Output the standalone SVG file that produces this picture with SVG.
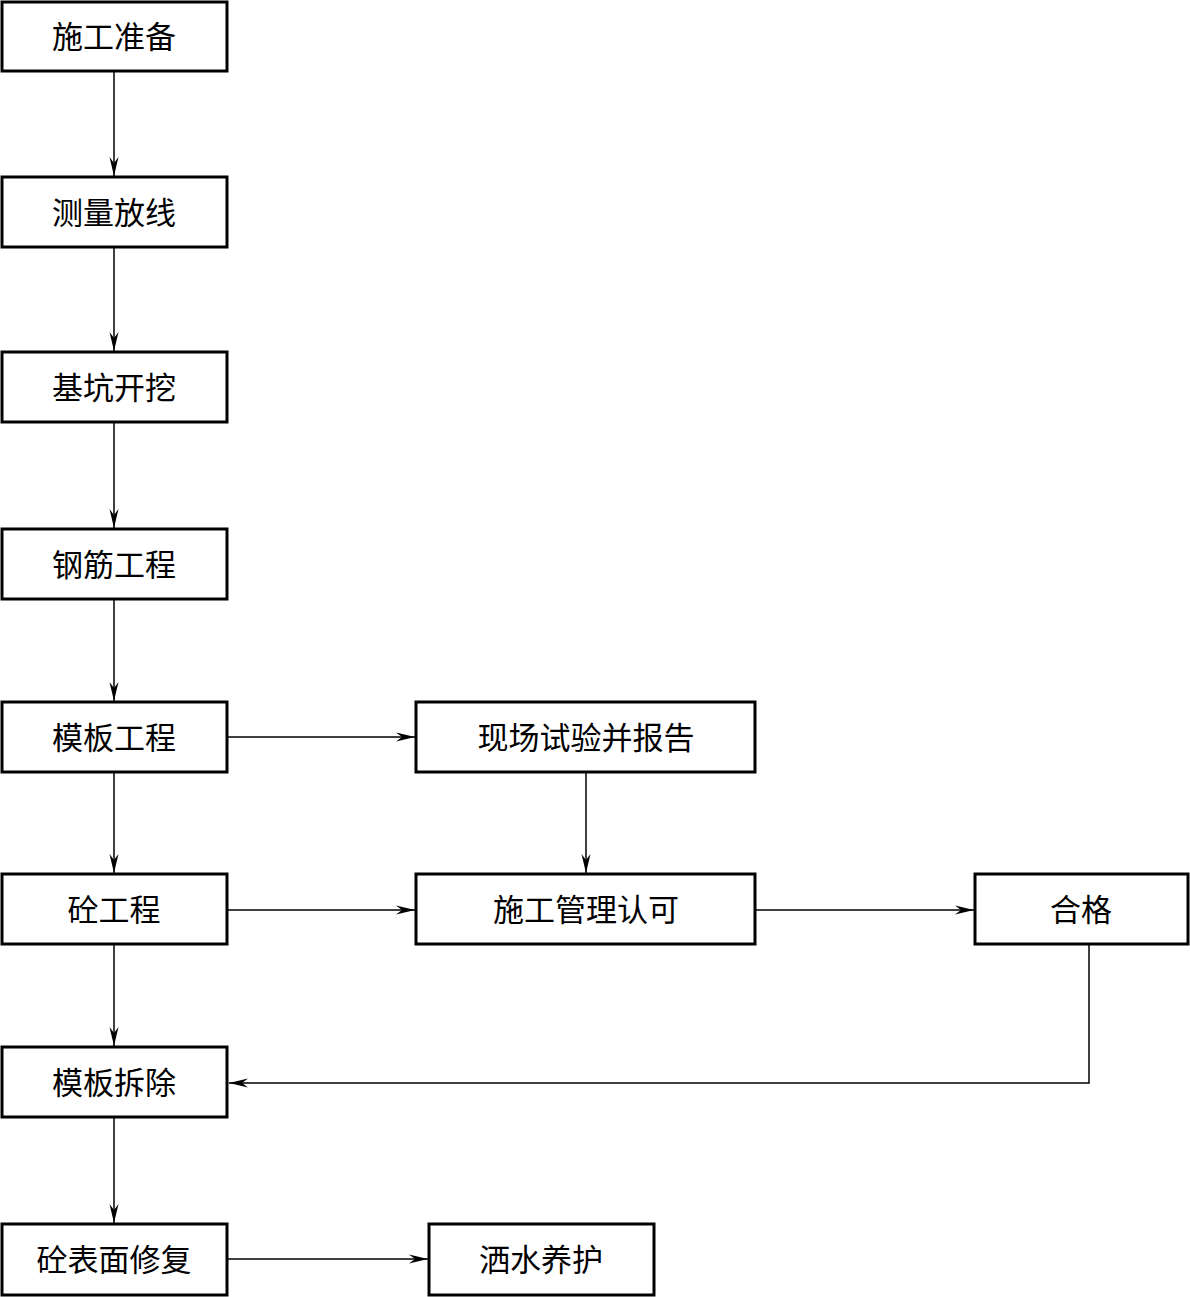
<svg xmlns="http://www.w3.org/2000/svg" width="1190" height="1297" viewBox="0 0 1190 1297">
<defs>
<marker id="arr" markerUnits="userSpaceOnUse" markerWidth="24" markerHeight="12" viewBox="-20 -6 22 12" refX="0" refY="0" orient="auto">
<path d="M0,0 L-19,-4.5 L-13,0 L-19,4.5 Z" fill="#000"/>
</marker>
</defs>
<style>
.box{fill:#fff;stroke:#000;stroke-width:3}
.lbl{font-family:"Noto Sans CJK SC","Noto Sans CJK JP",sans-serif;font-size:31px;fill:#000;text-anchor:middle;dominant-baseline:central}
.con{fill:none;stroke:#000;stroke-width:1.5}
</style>
<rect width="1190" height="1297" fill="#fff"/>
<g id="connectors">
<line class="con" x1="114" y1="71" x2="114" y2="176" marker-end="url(#arr)"/>
<line class="con" x1="114" y1="247" x2="114" y2="351" marker-end="url(#arr)"/>
<line class="con" x1="114" y1="422" x2="114" y2="528" marker-end="url(#arr)"/>
<line class="con" x1="114" y1="599" x2="114" y2="701" marker-end="url(#arr)"/>
<line class="con" x1="114" y1="772" x2="114" y2="873" marker-end="url(#arr)"/>
<line class="con" x1="114" y1="944" x2="114" y2="1046" marker-end="url(#arr)"/>
<line class="con" x1="114" y1="1117" x2="114" y2="1223" marker-end="url(#arr)"/>
<line class="con" x1="227" y1="737" x2="415" y2="737" marker-end="url(#arr)"/>
<line class="con" x1="586" y1="772" x2="586" y2="873" marker-end="url(#arr)"/>
<line class="con" x1="227" y1="910" x2="415" y2="910" marker-end="url(#arr)"/>
<line class="con" x1="755" y1="910" x2="974" y2="910" marker-end="url(#arr)"/>
<polyline class="con" points="1089,944 1089,1083 229,1083" marker-end="url(#arr)"/>
<line class="con" x1="227" y1="1259" x2="428" y2="1259" marker-end="url(#arr)"/>
</g>
<g id="n1"><rect class="box" x="2" y="2" width="225" height="69"/><text class="lbl" x="114" y="34">施工准备</text></g>
<g id="n2"><rect class="box" x="2" y="177" width="225" height="70"/><text class="lbl" x="114" y="210">测量放线</text></g>
<g id="n3"><rect class="box" x="2" y="352" width="225" height="70"/><text class="lbl" x="114" y="385">基坑开挖</text></g>
<g id="n4"><rect class="box" x="2" y="529" width="225" height="70"/><text class="lbl" x="114" y="562">钢筋工程</text></g>
<g id="n5"><rect class="box" x="2" y="702" width="225" height="70"/><text class="lbl" x="114" y="735">模板工程</text></g>
<g id="n6"><rect class="box" x="2" y="874" width="225" height="70"/><text class="lbl" x="114" y="907">砼工程</text></g>
<g id="n7"><rect class="box" x="2" y="1047" width="225" height="70"/><text class="lbl" x="114" y="1080">模板拆除</text></g>
<g id="n8"><rect class="box" x="2" y="1224" width="225" height="71"/><text class="lbl" x="114" y="1257">砼表面修复</text></g>
<g id="n9"><rect class="box" x="416" y="702" width="339" height="70"/><text class="lbl" x="586" y="735">现场试验并报告</text></g>
<g id="n10"><rect class="box" x="416" y="874" width="339" height="70"/><text class="lbl" x="586" y="907">施工管理认可</text></g>
<g id="n11"><rect class="box" x="975" y="874" width="213" height="70"/><text class="lbl" x="1081" y="907">合格</text></g>
<g id="n12"><rect class="box" x="429" y="1224" width="225" height="71"/><text class="lbl" x="541" y="1257">洒水养护</text></g>
</svg>
